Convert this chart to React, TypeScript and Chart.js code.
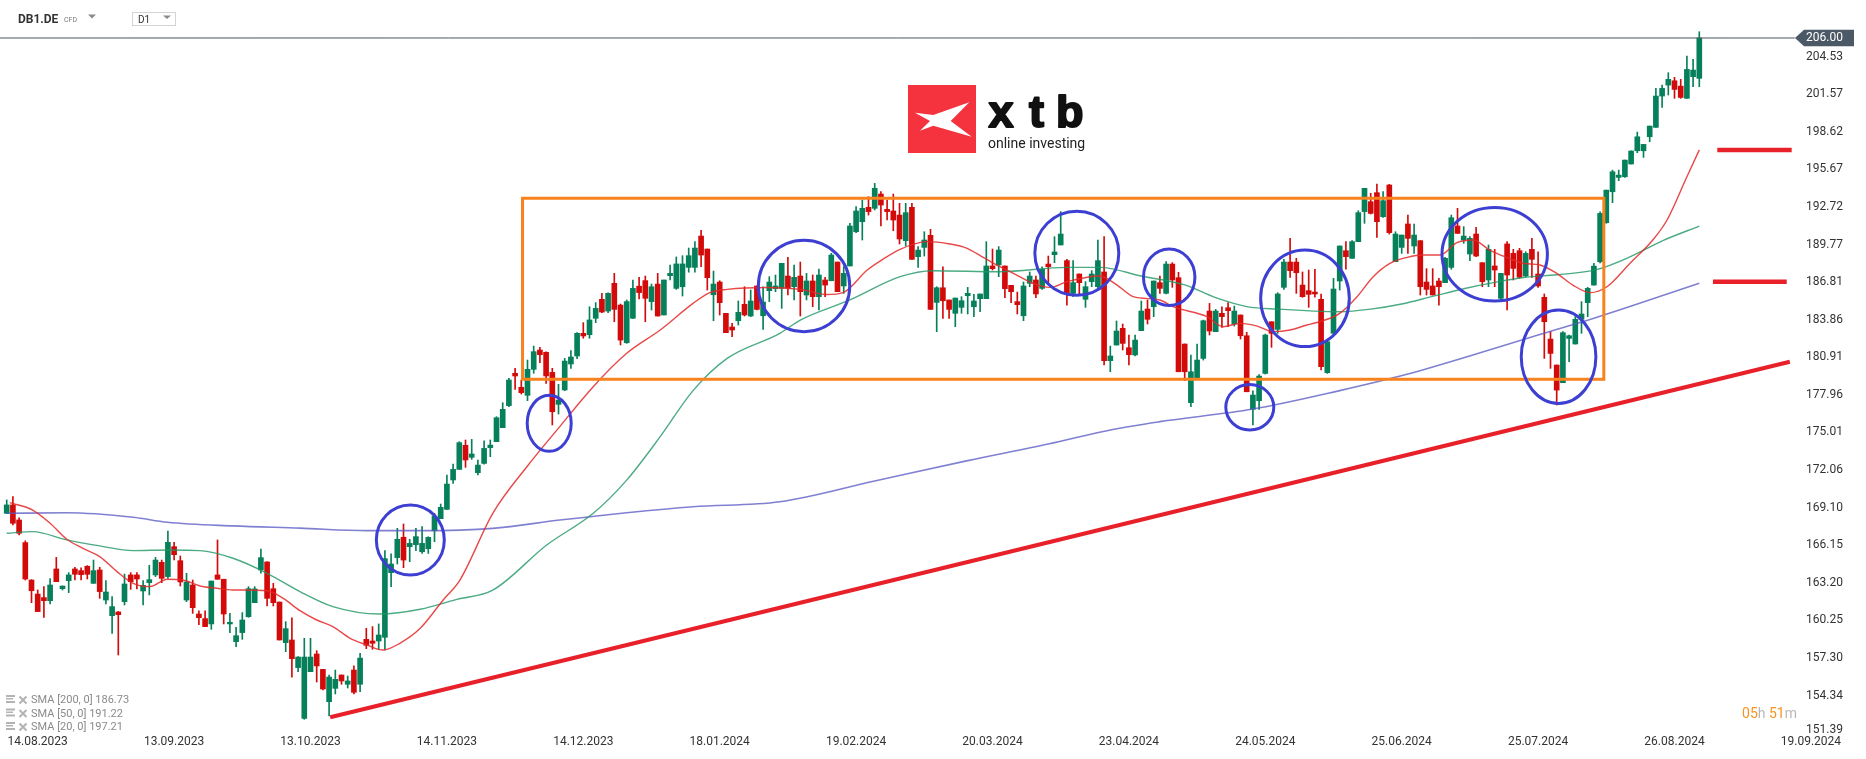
import React, { useEffect, useRef } from 'react';
import { Chart, registerables } from 'chart.js';

Chart.register(...registerables);

const W = 1866;
const H = 759;
const FONT = 'Roboto, "Noto Sans", sans-serif';
Chart.defaults.font.family = FONT;

// index of the first candle, relative to 14.08.2023 (= 0)
const firstIndex = -5;

const opens = [
  168.66, 169.32, 168.14, 166.36, 163.42, 162.32, 162.04, 161.80, 164.29, 162.74,
  163.37, 164.29, 164.16, 164.50, 163.16, 164.21, 161.85, 160.62, 160.91, 161.72,
  163.82, 163.82, 162.56, 163.21, 163.82, 164.81, 163.69, 166.04, 164.94, 161.85,
  163.03, 160.75, 160.39, 159.97, 163.82, 163.48, 159.97, 158.58, 159.29, 160.54,
  161.64, 164.21, 164.84, 162.74, 161.69, 158.50, 158.71, 156.54, 152.55, 156.22,
  157.61, 156.40, 153.86, 154.91, 155.96, 155.23, 156.35, 155.23, 158.76, 158.63,
  158.63, 158.92, 164.00, 165.18, 166.78, 166.04, 166.20, 165.64, 165.88, 167.29,
  168.24, 168.97, 171.28, 172.11, 174.00, 173.06, 171.85, 172.58, 173.82, 174.29,
  175.39, 177.12, 179.66, 178.56, 177.93, 179.97, 181.49, 181.31, 179.73, 177.22,
  178.35, 180.39, 181.02, 182.80, 182.69, 183.98, 185.47, 184.55, 186.73, 185.02,
  182.06, 183.98, 186.50, 186.94, 185.29, 186.67, 184.24, 187.33, 186.33, 186.46,
  187.98, 187.98, 190.44, 189.42, 185.83, 186.83, 184.37, 183.30, 183.79, 185.08,
  184.16, 186.52, 184.18, 186.15, 186.31, 186.33, 187.30, 186.46, 187.30, 185.81,
  186.91, 185.68, 186.99, 186.93, 188.40, 186.52, 188.09, 190.78, 191.57, 192.70,
  192.62, 193.74, 192.54, 192.41, 192.09, 190.08, 192.70, 188.82, 189.55, 190.50,
  185.23, 186.38, 185.42, 184.37, 184.84, 185.76, 184.89, 185.52, 185.52, 188.09,
  188.17, 188.09, 186.57, 185.29, 184.18, 186.73, 186.99, 186.33, 188.24, 188.98,
  189.74, 188.51, 185.94, 187.46, 185.47, 186.86, 186.46, 187.62, 180.65, 181.88,
  183.19, 181.67, 181.10, 183.01, 184.71, 184.89, 186.78, 185.94, 188.24, 187.17,
  181.96, 177.35, 179.26, 180.83, 184.55, 182.93, 184.37, 184.81, 183.53, 184.24,
  182.61, 176.83, 177.51, 179.65, 183.71, 183.11, 186.41, 188.40, 188.40, 186.59,
  186.15, 186.04, 185.47, 179.71, 182.80, 186.91, 189.29, 188.69, 190.00, 192.36,
  193.14, 193.85, 191.96, 194.45, 188.43, 189.55, 191.39, 189.66, 190.08, 186.83,
  186.52, 186.91, 186.78, 187.98, 191.23, 190.13, 189.03, 190.60, 188.35, 186.99,
  188.09, 185.55, 189.82, 189.08, 189.29, 187.30, 189.40, 187.46, 185.63, 182.35,
  180.31, 178.92, 182.40, 181.96, 183.90, 185.21, 186.59, 188.42, 191.49, 193.92,
  195.05, 195.10, 196.10, 197.14, 197.14, 198.24, 198.98, 201.44, 202.30, 202.64,
  202.22, 201.26, 202.96, 202.83,
];

const highs = [
  169.71, 169.97, 168.30, 166.50, 163.45, 162.64, 162.90, 163.53, 165.20, 162.95,
  164.00, 164.42, 164.37, 164.55, 164.99, 164.42, 163.37, 162.11, 160.95, 163.89,
  164.00, 164.00, 163.37, 164.58, 165.20, 164.99, 167.27, 166.38, 165.31, 163.95,
  163.42, 161.01, 161.01, 163.34, 166.57, 163.48, 160.80, 159.70, 160.86, 162.90,
  162.90, 165.86, 164.84, 163.16, 161.69, 160.15, 160.46, 157.40, 158.84, 158.84,
  157.87, 156.40, 155.96, 156.35, 155.96, 155.88, 156.67, 157.66, 159.63, 159.76,
  159.97, 165.73, 165.47, 167.48, 167.82, 166.62, 167.48, 167.61, 166.82, 168.66,
  169.39, 171.67, 172.53, 174.29, 174.42, 174.47, 172.85, 174.36, 174.42, 176.25,
  177.35, 179.26, 180.05, 179.13, 180.70, 181.80, 181.70, 181.35, 180.05, 178.79,
  180.83, 181.44, 182.85, 183.64, 184.89, 185.21, 185.94, 185.99, 187.51, 185.10,
  185.42, 186.99, 187.20, 187.30, 186.67, 187.51, 186.99, 188.17, 188.80, 188.90,
  189.50, 190.00, 190.90, 189.42, 187.69, 186.93, 184.37, 183.58, 185.34, 186.46,
  186.20, 186.52, 186.46, 187.25, 187.38, 188.30, 188.77, 188.17, 188.40, 187.51,
  187.38, 187.85, 187.20, 189.08, 188.40, 188.03, 191.44, 192.75, 193.27, 193.53,
  194.58, 193.93, 193.27, 193.74, 193.01, 193.01, 193.01, 189.61, 190.78, 190.97,
  186.46, 188.03, 185.42, 185.57, 185.68, 186.41, 185.86, 185.89, 190.00, 189.42,
  189.61, 188.09, 186.57, 186.04, 186.83, 187.62, 187.30, 188.03, 188.87, 190.39,
  192.36, 188.61, 188.51, 187.46, 186.86, 187.72, 190.13, 190.39, 181.80, 183.77,
  183.53, 182.67, 182.67, 185.34, 185.42, 186.91, 187.30, 188.43, 188.35, 187.59,
  181.96, 181.10, 181.96, 183.84, 185.15, 184.68, 184.89, 185.21, 184.94, 184.24,
  182.88, 178.29, 179.55, 182.74, 183.71, 185.99, 188.61, 190.26, 188.69, 187.62,
  187.77, 187.83, 185.89, 182.22, 187.12, 189.66, 190.00, 190.08, 192.43, 194.19,
  193.80, 194.53, 193.93, 194.50, 190.78, 190.52, 192.09, 191.39, 190.08, 187.88,
  187.88, 187.12, 188.77, 192.09, 192.62, 191.18, 190.39, 191.13, 188.35, 189.74,
  189.40, 187.51, 190.00, 189.40, 189.48, 189.21, 190.26, 189.21, 185.89, 182.93,
  180.31, 182.93, 182.67, 184.11, 185.29, 186.41, 188.29, 192.35, 194.05, 195.62,
  195.62, 196.41, 197.14, 198.61, 197.64, 199.08, 202.04, 202.30, 203.27, 202.91,
  202.75, 204.58, 204.32, 206.49,
];

const lows = [
  168.66, 167.74, 166.96, 163.42, 161.64, 160.94, 160.49, 161.54, 163.29, 162.64,
  162.43, 163.42, 163.42, 163.50, 163.16, 161.98, 161.54, 159.23, 157.53, 161.46,
  162.69, 162.72, 161.46, 162.25, 163.69, 163.21, 163.55, 164.99, 162.95, 161.72,
  160.80, 159.91, 159.76, 159.55, 163.48, 159.97, 159.29, 158.19, 158.76, 160.49,
  161.64, 163.95, 161.38, 161.38, 158.71, 157.79, 155.78, 156.22, 152.48, 156.22,
  155.41, 154.78, 152.74, 154.47, 155.23, 154.94, 154.47, 154.65, 158.03, 157.98,
  157.98, 157.92, 162.90, 164.68, 164.39, 164.86, 165.73, 165.51, 165.51, 166.43,
  168.24, 168.97, 171.01, 172.11, 172.27, 172.90, 171.67, 172.53, 173.11, 174.29,
  175.39, 177.04, 178.40, 178.03, 177.51, 179.66, 180.49, 178.87, 175.60, 176.46,
  178.29, 180.05, 180.81, 182.41, 182.41, 183.64, 184.42, 184.42, 183.71, 181.88,
  182.01, 183.98, 185.50, 183.71, 184.63, 184.16, 184.24, 186.99, 186.25, 185.73,
  187.60, 187.60, 188.03, 186.20, 183.79, 184.24, 182.85, 182.54, 183.45, 184.16,
  184.11, 184.63, 183.11, 185.29, 186.07, 184.76, 185.81, 185.42, 184.16, 185.42,
  184.89, 184.63, 185.68, 186.93, 186.07, 185.94, 188.09, 190.71, 190.13, 192.09,
  192.49, 191.23, 191.70, 190.86, 189.82, 189.66, 188.61, 187.98, 188.87, 184.68,
  182.93, 183.98, 183.98, 183.32, 184.37, 184.32, 184.11, 184.50, 185.52, 187.77,
  187.25, 185.60, 185.21, 184.32, 183.79, 186.46, 185.60, 186.25, 186.73, 188.35,
  189.74, 185.02, 185.68, 185.89, 184.84, 186.46, 186.33, 180.31, 179.78, 181.88,
  181.49, 180.31, 181.02, 183.01, 183.53, 184.11, 185.94, 185.89, 186.41, 179.78,
  179.08, 177.04, 179.26, 180.70, 182.67, 182.93, 183.27, 183.32, 183.37, 182.35,
  178.21, 175.60, 176.83, 179.60, 181.70, 182.80, 186.25, 187.20, 185.94, 185.63,
  184.84, 185.63, 179.92, 179.65, 182.80, 186.20, 187.83, 188.69, 190.00, 191.44,
  192.17, 190.34, 191.91, 190.60, 188.43, 189.08, 189.08, 189.08, 185.81, 185.81,
  185.81, 185.02, 186.78, 187.83, 190.65, 189.87, 188.51, 188.82, 186.46, 186.46,
  186.46, 185.42, 184.63, 186.99, 187.12, 187.25, 187.20, 186.41, 180.83, 180.05,
  177.17, 178.92, 180.57, 181.96, 182.80, 184.11, 186.59, 188.34, 191.44, 193.06,
  194.79, 195.05, 196.10, 196.99, 196.62, 197.85, 198.98, 200.55, 201.52, 201.26,
  201.26, 201.26, 202.17, 202.17,
];

const closes = [
  169.32, 167.88, 167.09, 163.50, 162.58, 160.94, 161.80, 163.03, 163.29, 162.95,
  163.82, 163.87, 163.84, 163.87, 164.16, 162.51, 162.48, 161.33, 160.70, 163.11,
  163.29, 163.50, 163.00, 163.45, 164.99, 163.55, 166.38, 165.41, 163.27, 163.27,
  161.25, 160.46, 159.76, 163.34, 163.48, 160.75, 160.10, 159.05, 160.28, 162.74,
  162.72, 165.18, 161.98, 161.64, 158.71, 159.60, 157.24, 157.37, 157.37, 157.37,
  156.67, 154.86, 155.80, 155.62, 155.49, 155.49, 154.60, 157.29, 158.29, 158.45,
  159.10, 165.10, 164.68, 166.62, 164.99, 166.30, 166.83, 166.30, 166.77, 168.45,
  169.13, 170.96, 172.11, 174.21, 172.85, 173.32, 172.45, 173.76, 174.02, 176.17,
  176.83, 179.13, 179.45, 178.14, 179.97, 181.36, 181.12, 179.45, 176.64, 177.56,
  180.62, 180.94, 182.80, 182.59, 183.85, 184.76, 184.47, 185.94, 184.68, 182.27,
  185.29, 186.33, 186.00, 185.55, 186.46, 184.16, 186.99, 187.51, 188.25, 188.25,
  188.90, 189.50, 188.95, 187.17, 186.67, 185.21, 182.85, 183.06, 184.45, 184.24,
  185.34, 184.68, 185.26, 186.83, 186.52, 188.30, 186.33, 187.20, 186.07, 186.91,
  185.68, 187.38, 186.59, 188.95, 186.07, 187.51, 191.23, 192.41, 192.62, 192.36,
  194.19, 192.88, 192.36, 191.70, 190.21, 192.28, 188.61, 189.34, 190.13, 184.68,
  186.38, 185.36, 184.68, 185.57, 185.36, 185.94, 185.34, 185.89, 188.09, 187.88,
  189.34, 186.31, 186.07, 185.05, 186.52, 187.30, 185.89, 187.83, 188.03, 189.19,
  190.60, 185.94, 186.78, 186.78, 186.46, 187.46, 188.51, 180.65, 181.02, 182.98,
  182.01, 181.12, 182.27, 184.55, 183.90, 186.91, 186.33, 188.24, 186.99, 179.78,
  179.78, 179.78, 180.70, 183.79, 182.98, 184.55, 184.11, 184.58, 184.55, 182.61,
  178.21, 177.95, 179.44, 182.67, 182.80, 185.89, 188.40, 187.72, 187.56, 185.68,
  185.86, 185.89, 180.18, 182.14, 186.28, 189.66, 188.82, 190.00, 192.28, 194.19,
  192.22, 191.57, 193.22, 190.71, 190.60, 190.52, 190.26, 190.52, 186.46, 186.25,
  185.81, 186.46, 188.69, 191.88, 190.65, 190.44, 190.26, 188.87, 186.86, 189.40,
  187.77, 187.51, 187.38, 187.90, 187.20, 189.08, 188.61, 186.52, 183.71, 181.22,
  178.34, 182.85, 182.61, 183.90, 184.32, 186.33, 188.08, 192.22, 194.05, 195.49,
  195.23, 196.41, 197.12, 198.24, 197.64, 199.08, 201.44, 202.04, 202.75, 201.96,
  201.33, 203.53, 203.48, 206.00,
];

const dateTickIndex = [0, 22, 44, 66, 88, 110, 132, 154, 176, 198, 220, 242, 264, 286];
const dateTickLabels = [
  '14.08.2023', '13.09.2023', '13.10.2023', '14.11.2023', '14.12.2023', '18.01.2024',
  '19.02.2024', '20.03.2024', '23.04.2024', '24.05.2024', '25.06.2024', '25.07.2024',
  '26.08.2024', '19.09.2024',
];
const priceTickLabels = [
  '151.39', '154.34', '157.30', '160.25', '163.20', '166.15', '169.10', '172.06', '175.01',
  '177.96', '180.91', '183.86', '186.81', '189.77', '192.72', '195.67', '198.62', '201.57', '204.53',
];
const lastPrice = 206.0;

// moving averages: [candle index, value]
const sma20 = [
  [-4.5, 169.5], [-0.8, 168.92], [2, 167.88], [4.7, 166.62], [7.3, 165.91], [10, 165.26],
  [12.8, 164.08], [15.4, 163.16], [18.1, 162.9], [20.9, 163.48], [23.4, 163.42], [26.2, 162.95],
  [28.9, 162.77], [31.5, 162.64], [37, 162.58], [39.6, 161.98], [42.3, 161.01], [45, 160.28],
  [47.6, 159.76], [50.4, 158.84], [53.1, 158.32], [55.7, 157.92], [58.4, 158.45], [61.7, 159.63],
  [65.4, 161.85], [68.1, 163.42], [73.4, 168.66], [78.9, 172.32], [84.2, 175.47], [89.6, 178.61],
  [95, 181.23], [100.4, 183.06], [105.7, 185.15], [108.4, 186.0], [111.2, 186.25], [117.6, 186.4],
  [123, 186.25], [127.3, 185.85], [129.9, 186.0], [133.8, 187.77], [136.3, 188.61], [139.1, 189.4],
  [143.4, 190.0], [147.1, 189.82], [149.9, 189.48], [152.5, 188.77], [155.2, 188.03], [157.9, 187.38],
  [160.5, 186.73], [163.3, 186.41], [166, 186.86], [171.3, 187.3], [174.1, 186.59], [176.7, 185.68],
  [181, 185.42], [183.1, 184.89], [188.6, 184.11], [191.2, 183.32], [193.9, 183.58], [196.7, 183.37],
  [199.2, 182.93], [202, 183.06], [204.7, 183.45], [207.3, 183.79], [210, 184.37], [212.8, 185.68],
  [215.4, 187.25], [218.1, 188.3], [220.9, 188.77], [223.5, 188.95], [226.2, 188.95], [228.9, 189.92],
  [231.5, 190.13], [234.2, 189.34], [236.9, 188.77], [239.6, 188.3], [242.3, 188.17], [245, 187.51],
  [247.6, 186.59], [250.4, 186.0], [253.1, 186.46], [256.8, 188.29], [260.5, 190.13], [262.8, 191.7],
  [266, 195.1], [268, 197.21],
];
const sma50 = [
  [-5, 167.09], [-0.8, 167.22], [4.7, 166.57], [10, 166.1], [15.4, 165.73], [20.9, 165.78],
  [26.2, 165.73], [31.5, 165.13], [37, 163.95], [42.3, 162.51], [47.6, 161.33], [55.2, 160.75],
  [61.7, 161.12], [67.6, 161.9], [73.4, 162.63], [82.1, 166.17], [89.6, 168.66], [95, 171.27],
  [100.4, 174.68], [105.7, 178.3], [111.2, 180.83], [119.7, 182.8], [123, 183.84], [131, 185.42],
  [139.1, 187.25], [144.4, 187.72], [155.2, 187.64], [166, 187.98], [171.3, 187.98], [178, 187.3],
  [185, 186.6], [190, 185.6], [195, 184.9], [200, 184.7], [210, 184.5], [215, 184.7], [220, 185.1],
  [225, 185.7], [230, 186.3], [235, 186.8], [240, 187.2], [245, 187.4], [251.4, 187.8],
  [256.8, 188.8], [262.2, 190.1], [268, 191.22],
];
const sma200 = [
  [-5, 168.66], [4.7, 168.7], [15.4, 168.35], [20.9, 167.96], [31.5, 167.67], [42.3, 167.5],
  [53.1, 167.3], [61.7, 167.3], [73.4, 167.48], [84.2, 168.13], [95, 168.71], [105.7, 169.18],
  [119.7, 169.57], [135, 171.2], [150, 172.8], [163, 174.1], [173.4, 175.25], [181, 175.86],
  [196, 176.85], [210, 178.3], [221, 179.6], [232, 181.17], [242, 182.67], [251, 183.98], [268, 186.73],
];
const legendRows = ['SMA [200, 0] 186.73', 'SMA [50, 0] 191.22', 'SMA [20, 0] 197.21'];

// drawn annotations, in data units (candle index, price)
const rangeBox = { k0: 78.2, k1: 252.6, top: 193.41, bottom: 179.19 };
const supportLine = [[47.18, 152.64], [282.6, 180.57]];
const levelLines = [
  { k0: 270.9, k1: 282.9, p: 197.2 },
  { k0: 270.2, k1: 282.1, p: 186.86 },
];
const circles = [
  { k: 60.1, p: 166.56, rk: 5.48, rp: 2.75 },
  { k: 82.5, p: 175.73, rk: 3.55, rp: 2.2 },
  { k: 123.6, p: 186.52, rk: 7.37, rp: 3.59 },
  { k: 167.6, p: 189.09, rk: 6.77, rp: 3.3 },
  { k: 182.5, p: 187.2, rk: 4.15, rp: 2.22 },
  { k: 195.5, p: 176.99, rk: 3.87, rp: 1.78 },
  { k: 204.4, p: 185.55, rk: 7.15, rp: 3.79 },
  { k: 235.0, p: 189.01, rk: 8.5, rp: 3.67 },
  { k: 245.3, p: 180.96, rk: 6.02, rp: 3.67 },
];

const X_MIN = -6.081;
const X_MAX = X_MIN + W / 6.2;
const Y_MAX = 208.984;
const Y_MIN = 151.246;

const GREEN = '#06805a';
const RED = '#d30a0a';

const overlay = {
  id: 'overlay',
  beforeDatasetsDraw(chart: any) {
    const ctx = chart.ctx;
    ctx.save();
    // xtb logo
    ctx.fillStyle = '#f4333f';
    ctx.fillRect(908, 85, 68, 68);
    ctx.fillStyle = '#ffffff';
    ctx.beginPath();
    ctx.moveTo(915, 112.7);
    ctx.lineTo(933.3, 115);
    ctx.lineTo(969.3, 102.3);
    ctx.lineTo(950.7, 121);
    ctx.lineTo(971.7, 136.7);
    ctx.lineTo(933.3, 125.7);
    ctx.lineTo(920, 130.7);
    ctx.lineTo(930, 121);
    ctx.closePath();
    ctx.fill();
    ctx.fillStyle = '#111111';
    ctx.strokeStyle = '#111111';
    ctx.lineWidth = 2;
    ctx.lineJoin = 'round';
    ctx.font = 'bold 45px "Liberation Sans", Arial, sans-serif';
    ctx.textAlign = 'left';
    ctx.textBaseline = 'alphabetic';
    const letters: [string, number][] = [['x', 988.5], ['t', 1029], ['b', 1056]];
    for (const [ch, lx] of letters) {
      ctx.fillText(ch, lx, 126.5);
      ctx.strokeText(ch, lx, 126.5);
    }
    ctx.font = '14px ' + FONT;
    ctx.fillStyle = '#222222';
    ctx.fillText('online investing', 988, 147.5);
    ctx.restore();
  },
  afterDatasetsDraw(chart: any) {
    const ctx = chart.ctx;
    const xs = chart.scales.x;
    const ys = chart.scales.y;
    ctx.save();
    // consolidation box
    const x0 = xs.getPixelForValue(rangeBox.k0);
    const x1 = xs.getPixelForValue(rangeBox.k1);
    const y0 = ys.getPixelForValue(rangeBox.top);
    const y1 = ys.getPixelForValue(rangeBox.bottom);
    ctx.strokeStyle = '#f7821e';
    ctx.lineWidth = 3;
    ctx.strokeRect(x0, y0, x1 - x0, y1 - y0);
    // circles
    ctx.strokeStyle = '#3c3fd2';
    ctx.lineWidth = 3;
    for (const c of circles) {
      const cx = xs.getPixelForValue(c.k);
      const cy = ys.getPixelForValue(c.p);
      const rx = Math.abs(xs.getPixelForValue(c.k + c.rk) - cx);
      const ry = Math.abs(ys.getPixelForValue(c.p + c.rp) - cy);
      ctx.beginPath();
      ctx.ellipse(cx, cy, rx, ry, 0, 0, Math.PI * 2);
      ctx.stroke();
    }
    ctx.restore();
  },
  afterDraw(chart: any) {
    const ctx = chart.ctx;
    const ys = chart.scales.y;
    const area = chart.chartArea;
    ctx.save();
    // price axis labels
    ctx.font = '12px ' + FONT;
    ctx.fillStyle = '#333333';
    ctx.textAlign = 'right';
    ctx.textBaseline = 'middle';
    const labelRight = W - 23;
    for (const l of priceTickLabels) {
      const py = Math.min(ys.getPixelForValue(parseFloat(l)), area.bottom - 5.5);
      ctx.fillText(l, labelRight, py);
    }
    // current price tag
    const pp = ys.getPixelForValue(lastPrice);
    ctx.fillStyle = '#4b5865';
    ctx.beginPath();
    ctx.moveTo(1795, pp);
    ctx.lineTo(1804, pp - 8.2);
    ctx.lineTo(1854, pp - 8.2);
    ctx.lineTo(1854, pp + 8.2);
    ctx.lineTo(1804, pp + 8.2);
    ctx.closePath();
    ctx.fill();
    ctx.fillStyle = '#ffffff';
    ctx.fillText(lastPrice.toFixed(2), labelRight, pp + 0.5);

    // header
    ctx.textAlign = 'left';
    ctx.fillStyle = '#333333';
    ctx.font = 'bold 12px ' + FONT;
    ctx.fillText('DB1.DE', 18, 19.5);
    ctx.font = '7px ' + FONT;
    ctx.fillStyle = '#777777';
    ctx.fillText('CFD', 64, 20);
    ctx.fillStyle = '#8a8a8a';
    ctx.beginPath();
    ctx.moveTo(88, 14.5); ctx.lineTo(96, 14.5); ctx.lineTo(92, 18.5); ctx.closePath(); ctx.fill();
    ctx.strokeStyle = '#d4d4d4';
    ctx.lineWidth = 1;
    ctx.strokeRect(132.5, 12.5, 43, 13);
    ctx.fillStyle = '#333333';
    ctx.font = '10px ' + FONT;
    ctx.fillText('D1', 138, 20.7);
    ctx.fillStyle = '#8a8a8a';
    ctx.beginPath();
    ctx.moveTo(163, 15.5); ctx.lineTo(171, 15.5); ctx.lineTo(167, 19); ctx.closePath(); ctx.fill();

    // indicator legend
    const rowsY = [700, 713.5, 727];
    legendRows.forEach((t, i) => {
      const y = rowsY[i];
      ctx.fillStyle = '#b3b3b3';
      ctx.fillRect(6, y - 5, 9, 2);
      ctx.fillRect(6, y - 2, 7, 1.5);
      ctx.fillRect(6, y + 1, 9, 2);
      ctx.strokeStyle = '#b3b3b3';
      ctx.lineWidth = 2;
      ctx.beginPath();
      ctx.moveTo(19.5, y - 3.5); ctx.lineTo(26.5, y + 3.5);
      ctx.moveTo(26.5, y - 3.5); ctx.lineTo(19.5, y + 3.5);
      ctx.stroke();
      ctx.fillStyle = '#8a8a8a';
      ctx.font = '11px ' + FONT;
      ctx.fillText(t, 31, y + 0.5);
    });

    // candle timer
    ctx.font = '14px ' + FONT;
    const parts: [string, string][] = [['05', '#f7941d'], ['h ', '#b8b8b8'], ['51', '#f7941d'], ['m', '#b8b8b8']];
    const total = parts.reduce((s, [t]) => s + ctx.measureText(t).width, 0);
    let tx = 1797 - total;
    for (const [t, c] of parts) {
      ctx.fillStyle = c;
      ctx.fillText(t, tx, 714);
      tx += ctx.measureText(t).width;
    }
    ctx.restore();
  },
};

export default function App() {
  const ref = useRef<HTMLCanvasElement>(null);
  useEffect(() => {
    const canvas = ref.current;
    if (!canvas) return;
    const ks = opens.map((_, i) => firstIndex + i);
    const colors = ks.map((_, i) => (closes[i] >= opens[i] ? GREEN : RED));
    const wicks = ks.map((k, i) => ({ x: k, y: [lows[i], highs[i]] }));
    const bodies = ks.map((k, i) => ({ x: k, y: [opens[i], closes[i]] }));
    const line = (pts: number[][], color: string, width: number, order: number, smooth: boolean) => ({
      type: 'line' as const,
      data: pts.map(([x, y]) => ({ x, y })),
      borderColor: color,
      borderWidth: width,
      pointRadius: 0,
      fill: false,
      tension: 0,
      cubicInterpolationMode: smooth ? ('monotone' as const) : ('default' as const),
      order,
    });
    const chart = new Chart(canvas, {
      type: 'bar',
      data: {
        datasets: [
          { type: 'bar', data: wicks as any, backgroundColor: colors, borderWidth: 0, barThickness: 1, grouped: false, order: 10 } as any,
          { type: 'bar', data: bodies as any, backgroundColor: colors, borderWidth: 0, barThickness: 5, minBarLength: 1, grouped: false, order: 9 } as any,
          line([[X_MIN, lastPrice], [283.4, lastPrice]], '#4b5560', 1, 8, false),
          line(sma200, 'rgba(85,85,195,0.75)', 1.6, 6, true),
          line(sma50, 'rgba(30,150,100,0.8)', 1.4, 5, true),
          line(sma20, 'rgba(228,40,40,0.85)', 1.4, 4, true),
          line(supportLine, '#e8202a', 4, 2, false),
          ...levelLines.map((l) => line([[l.k0, l.p], [l.k1, l.p]], '#e8202a', 4.5, 2, false)),
        ],
      },
      options: {
        animation: false,
        responsive: false,
        devicePixelRatio: 1,
        events: [],
        layout: { padding: 0 },
        plugins: { legend: { display: false }, tooltip: { enabled: false } },
        scales: {
          x: {
            type: 'linear',
            min: X_MIN,
            max: X_MAX,
            offset: false,
            grid: { display: false, drawTicks: false },
            border: { display: false },
            afterBuildTicks: (s: any) => {
              s.ticks = dateTickIndex.map((v) => ({ value: v }));
            },
            afterFit: (s: any) => {
              s.height = 24;
            },
            ticks: {
              autoSkip: false,
              maxRotation: 0,
              minRotation: 0,
              padding: 0,
              color: '#333333',
              font: { size: 12, family: FONT },
              callback: (v: any) => {
                const i = dateTickIndex.indexOf(Number(v));
                return i >= 0 ? dateTickLabels[i] : '';
              },
            },
          },
          y: { type: 'linear', display: false, min: Y_MIN, max: Y_MAX },
        },
      } as any,
      plugins: [overlay],
    });
    return () => chart.destroy();
  }, []);
  return (
    <div style={{ position: 'fixed', left: 0, top: 0, width: W, height: H, background: '#ffffff' }}>
      <canvas ref={ref} width={W} height={H} style={{ display: 'block', width: W, height: H }} />
    </div>
  );
}
